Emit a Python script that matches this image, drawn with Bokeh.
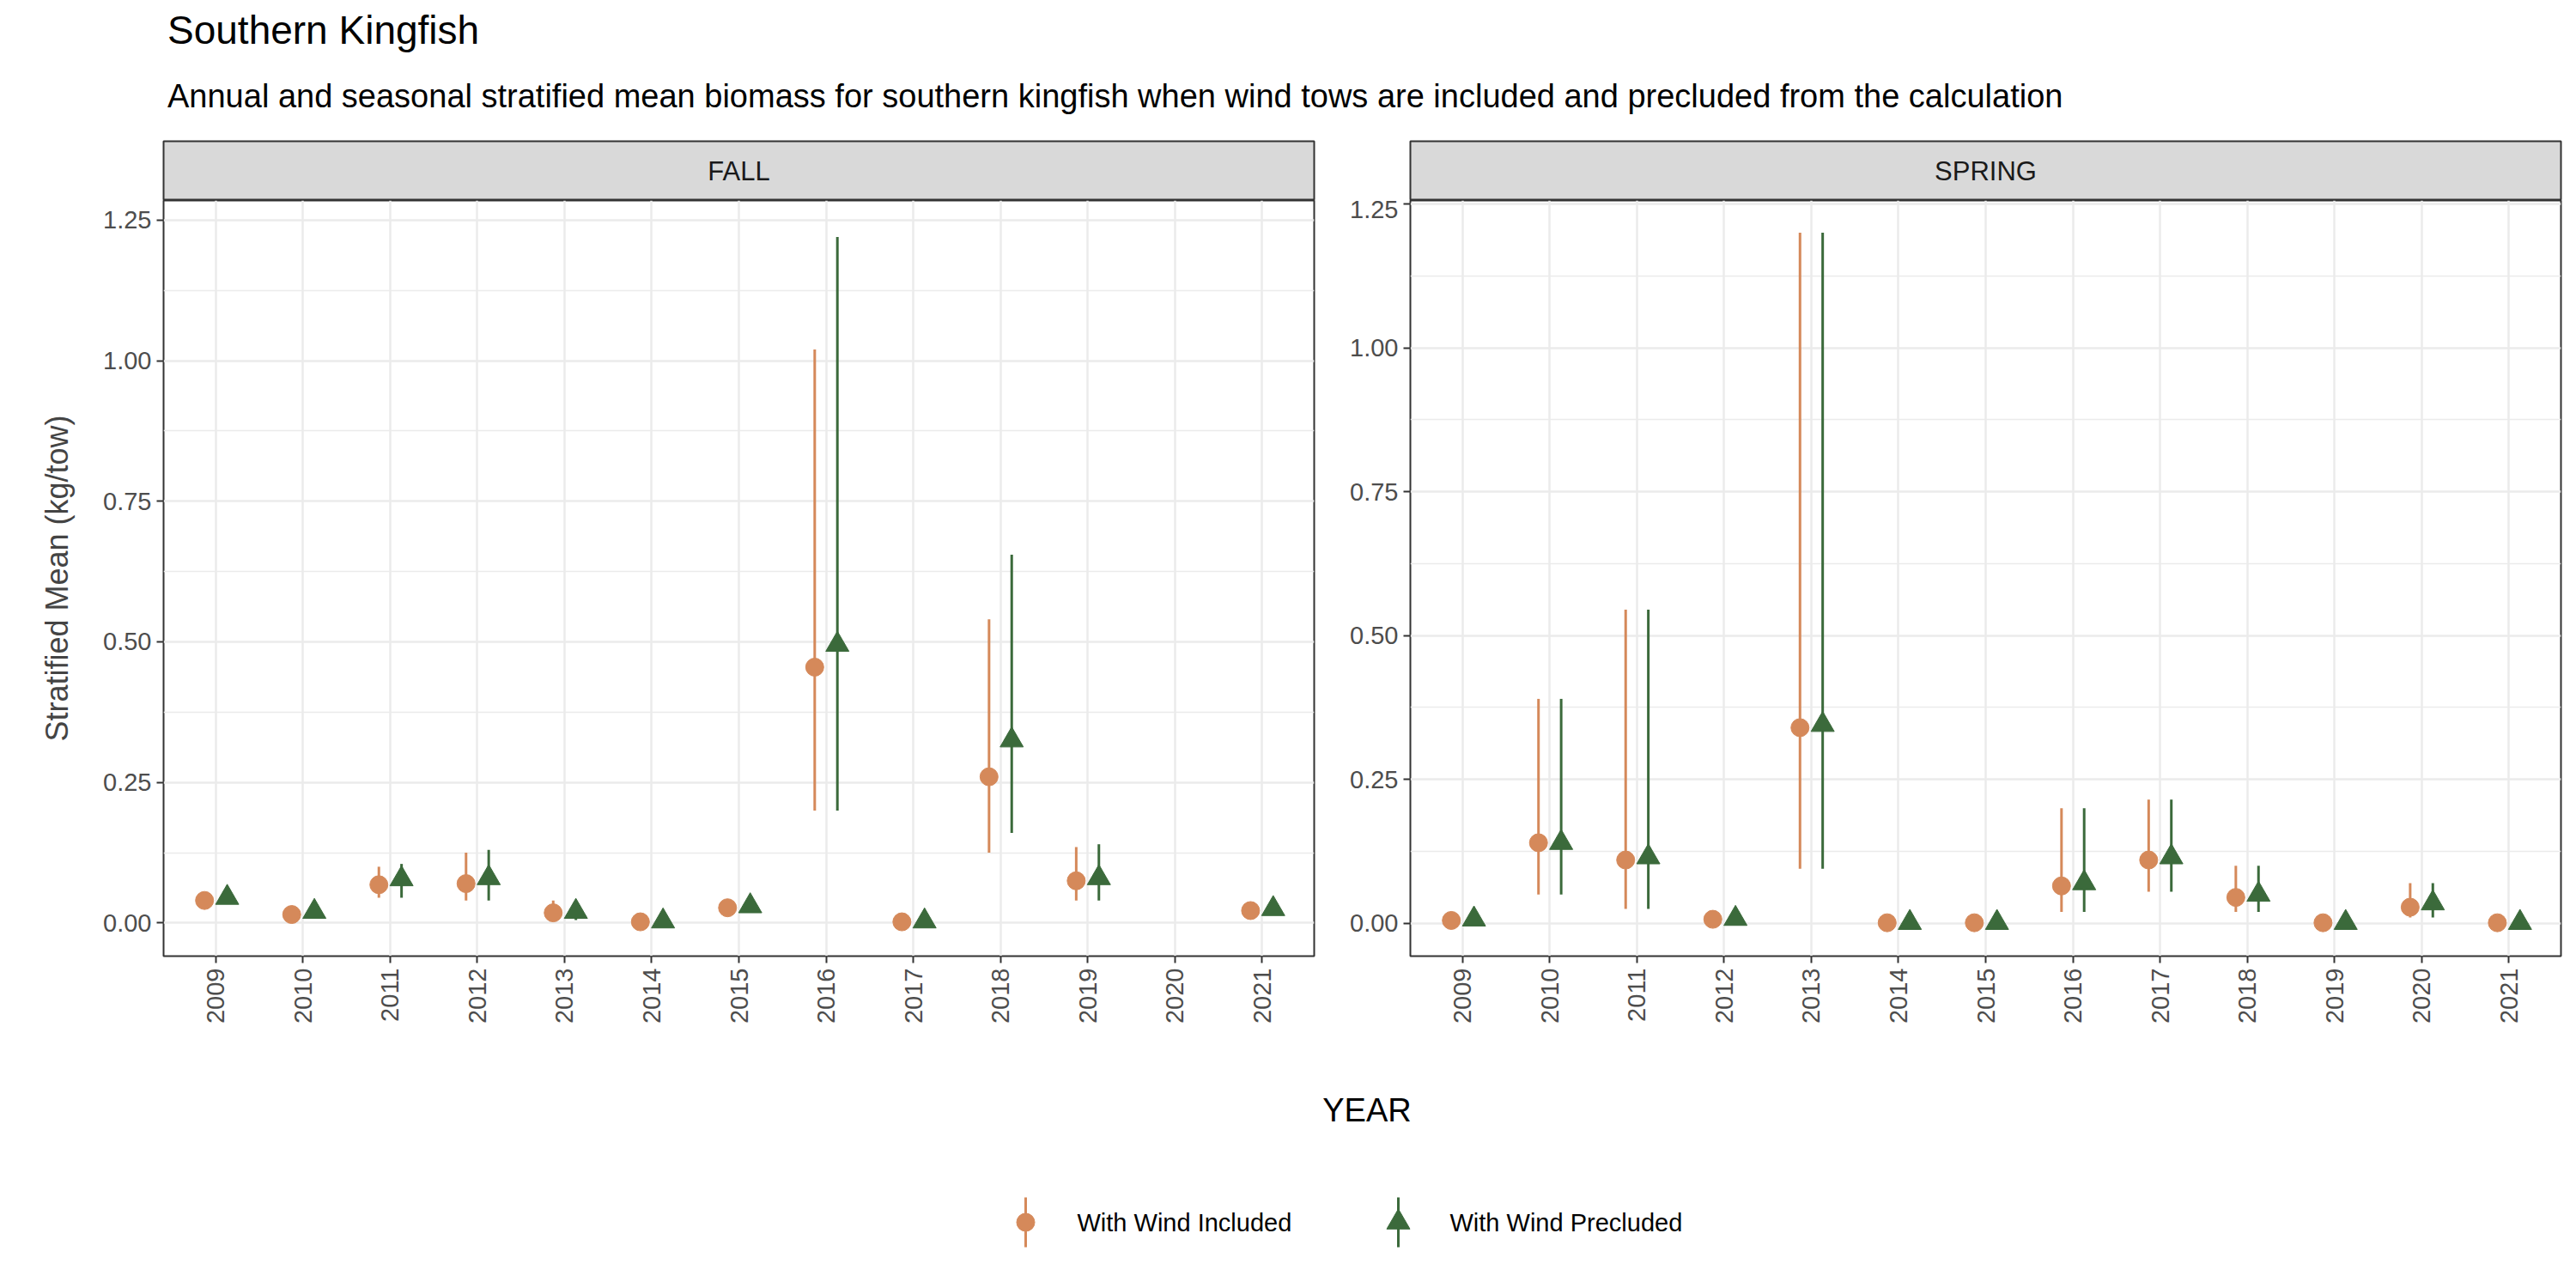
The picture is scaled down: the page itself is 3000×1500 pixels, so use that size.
import math
from bokeh.plotting import figure
from bokeh.layouts import column, row
from bokeh.models import Div, ColumnDataSource, FixedTicker, Range1d
from bokeh.embed import file_html
from bokeh.resources import INLINE

years = list(range(2009, 2022))
fall_inc = [0.040, 0.015, 0.068, 0.070, 0.018, 0.002, 0.027, 0.455, 0.002, 0.260, 0.075, None, 0.022]
fall_inc_lo = [0.030, 0.010, 0.045, 0.040, 0.005, 0.000, 0.018, 0.200, 0.000, 0.125, 0.040, None, 0.015]
fall_inc_hi = [0.050, 0.020, 0.100, 0.125, 0.040, 0.004, 0.035, 1.020, 0.004, 0.540, 0.135, None, 0.030]
fall_pre = [0.045, 0.020, 0.078, 0.080, 0.020, 0.003, 0.030, 0.495, 0.003, 0.325, 0.080, None, 0.025]
fall_pre_lo = [0.035, 0.012, 0.045, 0.040, 0.005, 0.000, 0.020, 0.200, 0.000, 0.160, 0.040, None, 0.017]
fall_pre_hi = [0.055, 0.028, 0.105, 0.130, 0.040, 0.006, 0.038, 1.220, 0.006, 0.655, 0.140, None, 0.033]
spr_inc = [0.005, 0.140, 0.110, 0.007, 0.340, 0.001, 0.001, 0.065, 0.110, 0.045, 0.001, 0.028, 0.001]
spr_inc_lo = [0.002, 0.050, 0.025, 0.003, 0.095, 0.000, 0.000, 0.020, 0.055, 0.020, 0.000, 0.010, 0.000]
spr_inc_hi = [0.010, 0.390, 0.545, 0.012, 1.200, 0.002, 0.002, 0.200, 0.215, 0.100, 0.002, 0.070, 0.002]
spr_pre = [0.007, 0.140, 0.115, 0.008, 0.345, 0.001, 0.001, 0.070, 0.115, 0.050, 0.001, 0.035, 0.001]
spr_pre_lo = [0.003, 0.050, 0.025, 0.004, 0.095, 0.000, 0.000, 0.020, 0.055, 0.020, 0.000, 0.010, 0.000]
spr_pre_hi = [0.012, 0.390, 0.545, 0.013, 1.200, 0.002, 0.002, 0.200, 0.215, 0.100, 0.002, 0.070, 0.002]
legend_labels = ["With Wind Included", "With Wind Precluded"]

ORANGE = "#D5895A"
GREEN = "#3B6A3B"
FONT = "Liberation Sans"
DODGE = 0.13
FW_L, FW_R = 190, 30
SW_L, SW_R = 82, 2
FRAME_W = 1340
FALL_W = FW_L + FRAME_W + FW_R
SPR_W = SW_L + FRAME_W + SW_R
TOTAL_W = FALL_W + SPR_W

def src(vals, lo, hi, off):
    xs, ys, l, h = [], [], [], []
    for yr, v, a, b in zip(years, vals, lo, hi):
        if v is None:
            continue
        xs.append(yr + off); ys.append(v); l.append(a); h.append(b)
    return ColumnDataSource(dict(x=xs, y=ys, lo=l, hi=h))

def strip(label, width, bl, br):
    s = figure(width=width, height=73, x_range=(0, 1), y_range=(0, 1),
               toolbar_location=None, output_backend="svg",
               min_border_left=bl, min_border_right=br, min_border_top=4, min_border_bottom=0)
    s.axis.visible = False
    s.grid.visible = False
    s.background_fill_color = "#D9D9D9"
    s.outline_line_color = "#333333"
    s.outline_line_width = 2
    s.text(x=[0.5], y=[0.5], text=[label], text_align="center", text_baseline="middle",
           text_font_size="31px", text_color="#1A1A1A", text_font={"value": FONT})
    return s

def panel(inc, ilo, ihi, pre, plo, phi, yr, width, bl, br, ylabel):
    p = figure(width=width, height=1010, x_range=Range1d(2008.4, 2021.6), y_range=Range1d(*yr),
               toolbar_location=None, output_backend="svg",
               min_border_left=bl, min_border_right=br, min_border_top=0, min_border_bottom=130)
    p.outline_line_color = "#333333"
    p.outline_line_width = 2
    p.xaxis.ticker = FixedTicker(ticks=years)
    p.yaxis.ticker = FixedTicker(ticks=[0, 0.25, 0.5, 0.75, 1.0, 1.25],
                                 minor_ticks=[-0.125, 0.125, 0.375, 0.625, 0.875, 1.125])
    p.yaxis.major_label_overrides = {0: "0.00", 0.25: "0.25", 0.5: "0.50", 0.75: "0.75", 1.0: "1.00", 1.25: "1.25"}
    p.xaxis.major_label_orientation = math.pi / 2
    for ax in p.axis:
        ax.axis_line_color = None
        ax.major_tick_line_color = "#333333"
        ax.major_tick_line_width = 2
        ax.major_tick_out = 8
        ax.major_tick_in = 0
        ax.minor_tick_line_color = None
        ax.major_label_text_font_size = "29px"
        ax.major_label_text_color = "#4D4D4D"
        ax.major_label_text_font = FONT
        ax.major_label_standoff = 6
    p.xgrid.grid_line_color = "#EBEBEB"
    p.xgrid.grid_line_width = 2.5
    p.ygrid.grid_line_color = "#EBEBEB"
    p.ygrid.grid_line_width = 2.5
    p.ygrid.minor_grid_line_color = "#EBEBEB"
    p.ygrid.minor_grid_line_width = 1.3
    if ylabel:
        p.yaxis.axis_label = ylabel
        p.yaxis.axis_label_text_font_size = "36px"
        p.yaxis.axis_label_text_font_style = "normal"
        p.yaxis.axis_label_text_font = FONT
        p.yaxis.axis_label_standoff = 30
    a = src(inc, ilo, ihi, -DODGE)
    b = src(pre, plo, phi, DODGE)
    p.segment(x0="x", x1="x", y0="lo", y1="hi", source=a, line_color=ORANGE, line_width=3)
    p.scatter(x="x", y="y", source=a, marker="circle", size=21, fill_color=ORANGE, line_color=ORANGE)
    p.segment(x0="x", x1="x", y0="lo", y1="hi", source=b, line_color=GREEN, line_width=3)
    p.scatter(x="x", y="y", source=b, marker="triangle", size=27, fill_color=GREEN, line_color=GREEN)
    return p

fall = panel(fall_inc, fall_inc_lo, fall_inc_hi, fall_pre, fall_pre_lo, fall_pre_hi,
             (-0.059, 1.285), FALL_W, FW_L, FW_R, "Stratified Mean (kg/tow)")
spring = panel(spr_inc, spr_inc_lo, spr_inc_hi, spr_pre, spr_pre_lo, spr_pre_hi,
               (-0.057, 1.256), SPR_W, SW_L, SW_R, None)

title = Div(text=f"<div style='font-family:{FONT};padding-left:{FW_L}px;white-space:nowrap;'>"
                 "<div style='font-size:46px;line-height:56px;color:#000;margin-top:2px;'>Southern Kingfish</div>"
                 "<div style='font-size:38px;line-height:50px;color:#000;margin-top:24px;'>Annual and seasonal stratified mean biomass for southern kingfish when wind tows are included and precluded from the calculation</div></div>",
            width=TOTAL_W, height=150)

xlab = Div(text=f"<div style='font-family:{FONT};font-size:38px;text-align:center;width:{TOTAL_W}px;padding-left:{FW_L}px;box-sizing:border-box;margin-top:18px;'>YEAR</div>",
           width=TOTAL_W, height=110)

# legend drawn in a pixel-unit key panel
lg = figure(width=TOTAL_W, height=120, x_range=(0, TOTAL_W), y_range=(0, 120), toolbar_location=None,
            output_backend="svg", min_border=0)
lg.axis.visible = False
lg.grid.visible = False
lg.outline_line_color = None
kx = [1194, 1628]
kcol = [ORANGE, GREEN]
lg.segment(x0=kx, x1=kx, y0=[31, 31], y1=[89, 89], line_color=kcol, line_width=3)
lg.scatter(x=kx[:1], y=[60], marker="circle", size=21, fill_color=ORANGE, line_color=ORANGE)
lg.scatter(x=kx[1:], y=[60], marker="triangle", size=27, fill_color=GREEN, line_color=GREEN)
lg.text(x=[k + 60 for k in kx], y=[60, 60], text=legend_labels, text_baseline="middle",
        text_font_size="29px", text_color="#000000", text_font={"value": FONT})

layout = column(title,
                row(column(strip("FALL", FALL_W, FW_L, FW_R), fall, spacing=0),
                    column(strip("SPRING", SPR_W, SW_L, SW_R), spring, spacing=0), spacing=0),
                xlab, lg, spacing=0)

open("out.html", "w").write(file_html(layout, INLINE))
